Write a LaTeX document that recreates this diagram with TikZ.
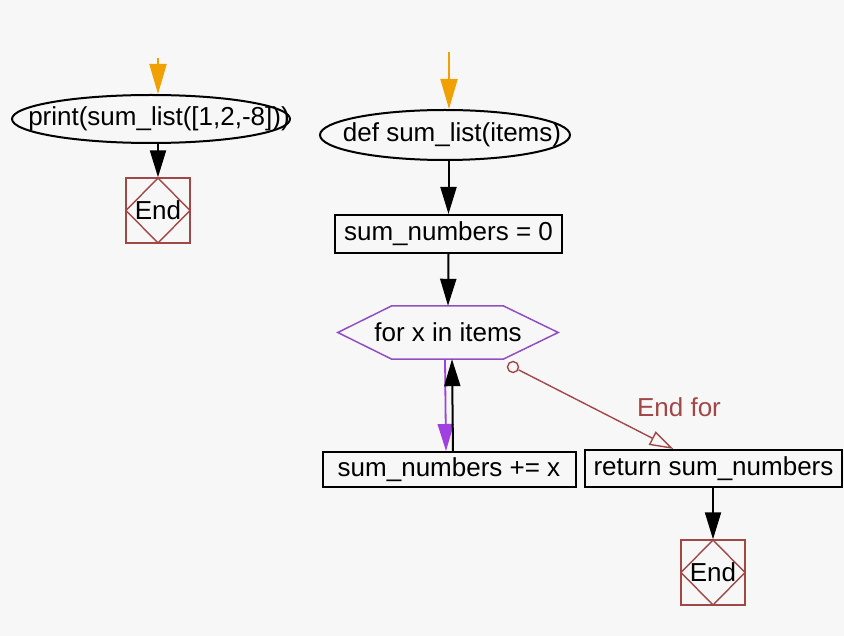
\documentclass[tikz,border=0pt]{standalone}
\usepackage{fontspec}
\setmainfont{Liberation Sans}
\usetikzlibrary{shapes.geometric,arrows.meta}
\definecolor{orng}{HTML}{F0A000}
\definecolor{purp}{HTML}{A040E0}
\definecolor{hexc}{HTML}{9050C0}
\definecolor{brn}{HTML}{A04848}
\begin{document}
\begin{tikzpicture}[x=1pt,y=-1pt,
  font=\fontsize{26}{30}\selectfont,
  term/.style={ellipse,draw,line width=2pt,inner sep=0pt},
  proc/.style={rectangle,draw,line width=2pt,inner sep=0pt},
  endbox/.style={rectangle,draw=brn,line width=1.4pt,minimum width=64pt,minimum height=65pt,inner sep=0pt,
    path picture={\draw[brn,line width=1.4pt] (path picture bounding box.north) -- (path picture bounding box.east) -- (path picture bounding box.south) -- (path picture bounding box.west) -- cycle;}},
  flow/.style={line width=2pt,-{Triangle[length=27pt,width=16pt]}},
  startflow/.style={draw=orng,line width=2pt,-{Triangle[length=30pt,width=17pt]}},
  loopflow/.style={draw=purp,line width=1.8pt,-{Triangle[length=27pt,width=16pt]}},
  endfor/.style={draw=brn,line width=1.4pt,-{Triangle[open,length=24pt,width=15pt]}},
]
\fill[black!3] (0,0) rectangle (844,636);
\useasboundingbox (0,0) rectangle (844,636);

% left column
\coordinate (ps) at (158,58);
\node[term,minimum width=278pt,minimum height=48pt] (p) at (151,119) {\makebox[0pt]{\hspace{16pt}\raisebox{-2pt}{print(sum\_list([1,2,-8]))}}};
\node[endbox] (e1) at (158,210.5) {\raisebox{-2pt}{End}};
\draw[startflow] (ps) -- (ps |- p.north);
\draw[flow] (p.south -| e1.north) -- (e1.north);

% right column
\coordinate (ds) at (449,52);
\node[term,minimum width=250pt,minimum height=50pt] (d) at (445,135) {\makebox[0pt]{\hspace{14pt}\raisebox{-2pt}{def sum\_list(items)}}};
\node[proc,minimum width=227pt,minimum height=38pt] (s0) at (448.5,234) {\raisebox{-3pt}{sum\_numbers = 0}};
\node[minimum width=220pt,minimum height=53pt,inner sep=0pt] (f) at (448,332.5) {for x in items};
\draw[hexc,line width=1.5pt] (f.west) -- ([xshift=54pt]f.north west) -- ([xshift=-55pt]f.north east) -- (f.east) -- ([xshift=-55pt]f.south east) -- ([xshift=54pt]f.south west) -- cycle;
\node[proc,minimum width=253pt,minimum height=35pt] (b) at (449,469.5) {\raisebox{-2pt}{sum\_numbers += x}};
\node[proc,minimum width=257pt,minimum height=37pt] (r) at (713.5,468.5) {\raisebox{-2pt}{return sum\_numbers}};
\node[endbox] (e2) at (713,572.5) {\raisebox{-2pt}{End}};

\draw[startflow] (ds) -- (ds |- d.north);
\draw[flow] (d.south -| s0.north) -- (s0.north);
\draw[flow] (s0.south) -- (f.north);
\draw[loopflow] ([xshift=-3pt]f.south) -- ([xshift=-3pt]b.north);
\draw[flow] ([xshift=4pt]b.north) -- ([xshift=4pt]f.south);

\node[circle,draw=brn,line width=1.4pt,minimum size=11pt,inner sep=0pt] (c) at (513,367) {};
\draw[endfor] (c) -- ([xshift=-40pt]r.north);
\node[text=brn] (ef) at (679,407) {End for};
\draw[flow] (r.south -| e2.north) -- (e2.north);
\end{tikzpicture}
\end{document}
